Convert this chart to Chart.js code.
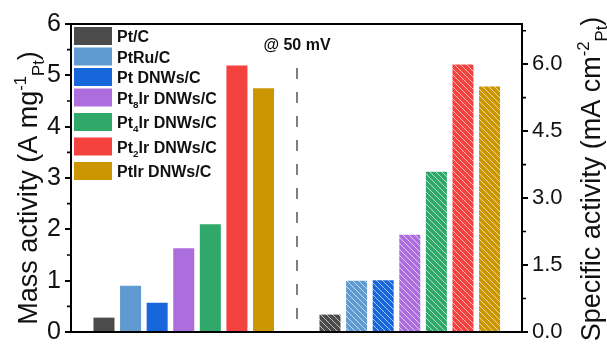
<!DOCTYPE html>
<html>
<head>
<meta charset="utf-8">
<script src="https://cdn.jsdelivr.net/npm/chart.js@4/dist/chart.umd.min.js"></script>
<style>
html,body{margin:0;padding:0;background:#fff;}
#wrap{width:607px;height:351px;}
</style>
</head>
<body>
<div id="wrap"><canvas id="c" width="607" height="351"></canvas></div>
<script>
// ---- data ----
const categories = ['Pt/C', 'PtRu/C', 'Pt DNWs/C', 'Pt₈Ir DNWs/C', 'Pt₄Ir DNWs/C', 'Pt₂Ir DNWs/C', 'PtIr DNWs/C'];
const massActivity = [0.28, 0.90, 0.57, 1.63, 2.10, 5.19, 4.75];
const specificActivity = [0.39, 1.15, 1.16, 2.18, 3.59, 5.99, 5.50];
const barColors = ['#4b4b4b', '#5f9bd0', '#1766dc', '#ad6edd', '#2fa86a', '#f4423f', '#cb9602'];
const massTicks = [0, 1, 2, 3, 4, 5, 6];
const specificTicks = [0, 1.5, 3.0, 4.5, 6.0];
const annotationText = '@ 50 mV';

const FONT = "'Liberation Sans', Arial, Helvetica, sans-serif";

// group placement on linear x axis (index based)
const leftStart = 1, rightStart = 9.5, dividerX = 8.25;

function hatch(color) {
  const s = 6;
  const cv = document.createElement('canvas');
  cv.width = s; cv.height = s;
  const g = cv.getContext('2d');
  g.fillStyle = color; g.fillRect(0, 0, s, s);
  g.strokeStyle = 'rgba(255,255,255,0.7)';
  g.lineWidth = 0.9;
  g.beginPath();
  for (let k = -1; k <= 1; k++) {
    g.moveTo(k * s, 0); g.lineTo(k * s + s, s);
  }
  g.stroke();
  return g.createPattern(cv, 'repeat');
}

const subMap = {'₀':'0','₁':'1','₂':'2','₃':'3','₄':'4','₅':'5','₆':'6','₇':'7','₈':'8','₉':'9'};
function parseLabel(str) {
  const parts = [];
  let cur = '', curSub = false;
  for (const ch of str) {
    const isSub = ch in subMap;
    if (isSub !== curSub && cur) { parts.push({t: cur, s: curSub ? -1 : 0}); cur = ''; }
    curSub = isSub;
    cur += isSub ? subMap[ch] : ch;
  }
  if (cur) parts.push({t: cur, s: curSub ? -1 : 0});
  return parts;
}

function drawRich(ctx, parts, x, y, size, weight, align, scale) {
  scale = scale || 0.62;
  const fontFor = p => weight + ' ' + (p.s ? size * scale : size) + 'px ' + FONT;
  let total = 0;
  const widths = parts.map(p => { ctx.font = fontFor(p); const w = ctx.measureText(p.t).width; total += w; return w; });
  let cx = align === 'center' ? x - total / 2 : (align === 'right' ? x - total : x);
  ctx.textAlign = 'left';
  ctx.textBaseline = 'alphabetic';
  parts.forEach((p, i) => {
    ctx.font = fontFor(p);
    const dy = p.s === 1 ? -size * 0.42 : (p.s === -1 ? size * 0.26 : 0);
    ctx.fillText(p.t, cx, y + dy);
    cx += widths[i];
  });
}

const decor = {
  id: 'decor',
  afterDraw(chart) {
    const ctx = chart.ctx;
    const a = chart.chartArea;
    const y = chart.scales.y, y2 = chart.scales.y2, x = chart.scales.x;
    ctx.save();
    // frame
    ctx.strokeStyle = '#000'; ctx.lineWidth = 2;
    ctx.strokeRect(a.left, a.top, a.right - a.left, a.bottom - a.top);
    // minor ticks
    ctx.lineWidth = 1.6;
    ctx.beginPath();
    for (let v = 0.5; v < 6; v += 1) {
      const py = y.getPixelForValue(v);
      ctx.moveTo(a.left, py); ctx.lineTo(a.left - 4, py);
    }
    for (let v = 0.75; v < 6.9; v += 1.5) {
      const py = y2.getPixelForValue(v);
      ctx.moveTo(a.right, py); ctx.lineTo(a.right + 4, py);
    }
    ctx.stroke();
    // divider
    const dx = Math.round(x.getPixelForValue(dividerX));
    ctx.strokeStyle = '#7f7f7f'; ctx.lineWidth = 2;
    ctx.setLineDash([11, 13]);
    ctx.beginPath(); ctx.moveTo(dx, 68); ctx.lineTo(dx, a.bottom); ctx.stroke();
    ctx.setLineDash([]);
    // annotation
    ctx.fillStyle = '#111';
    ctx.font = 'bold 16px ' + FONT;
    ctx.textAlign = 'center'; ctx.textBaseline = 'middle';
    ctx.fillText(annotationText, dx, 46);
    // legend
    let ly = a.top + 3;
    categories.forEach((name, i) => {
      const parts = parseLabel(name);
      const hasSub = parts.some(p => p.s);
      ctx.fillStyle = barColors[i];
      ctx.fillRect(a.left + 3, ly, 38, 18);
      ctx.fillStyle = '#111';
      drawRich(ctx, parts, a.left + 46, ly + 15, 16, 'bold', 'left', 0.62);
      ly += hasSub ? 24.5 : 20.5;
    });
    // axis titles
    ctx.fillStyle = '#111';
    ctx.save();
    ctx.translate(37, 188);
    ctx.rotate(-Math.PI / 2);
    drawRich(ctx, [{t: 'Mass activity (A mg', s: 0}, {t: '-1', s: 1}, {t: 'Pt', s: -1}, {t: ')', s: 0}], 0, 0, 27, 'normal', 'center', 0.62);
    ctx.restore();
    ctx.save();
    ctx.translate(600, 179);
    ctx.rotate(-Math.PI / 2);
    drawRich(ctx, [{t: 'Specific activity (mA cm', s: 0}, {t: '-2', s: 1}, {t: 'Pt', s: -1}, {t: ')', s: 0}], 0, 0, 27, 'normal', 'center', 0.62);
    ctx.restore();
    ctx.restore();
  }
};

new Chart(document.getElementById('c'), {
  type: 'bar',
  data: {
    datasets: [
      {
        label: 'Mass activity',
        yAxisID: 'y',
        data: massActivity.map((v, i) => ({x: leftStart + i, y: v})),
        backgroundColor: barColors,
        barPercentage: 0.79,
        categoryPercentage: 1.0,
        grouped: false,
        borderWidth: 0
      },
      {
        label: 'Specific activity',
        yAxisID: 'y2',
        data: specificActivity.map((v, i) => ({x: rightStart + i, y: v})),
        backgroundColor: barColors.map(hatch),
        barPercentage: 0.79,
        categoryPercentage: 1.0,
        grouped: false,
        borderWidth: 0
      }
    ]
  },
  options: {
    responsive: false,
    animation: false,
    layout: {padding: {top: 24, bottom: 11, left: 0, right: 0}},
    plugins: {legend: {display: false}, tooltip: {enabled: false}},
    scales: {
      x: {type: 'linear', min: -0.24, max: 16.72, offset: false, display: false, grid: {offset: false}},
      y: {
        position: 'left', min: 0, max: 6,
        afterBuildTicks: s => { s.ticks = massTicks.map(v => ({value: v})); },
        afterFit: s => { s.width = 71; },
        ticks: {color: '#111', padding: 4, font: {family: FONT, size: 25}, callback: v => String(v)},
        grid: {drawOnChartArea: false, drawTicks: true, tickLength: 6, color: '#000', lineWidth: 2},
        border: {display: true, color: '#000', width: 2}
      },
      y2: {
        position: 'right', min: 0, max: 6.9,
        afterBuildTicks: s => { s.ticks = specificTicks.map(v => ({value: v})); },
        afterFit: s => { s.width = 85; },
        ticks: {color: '#111', padding: 4, font: {family: FONT, size: 22}, callback: v => Number(v).toFixed(1)},
        grid: {drawOnChartArea: false, drawTicks: true, tickLength: 6, color: '#000', lineWidth: 2},
        border: {display: true, color: '#000', width: 2}
      }
    }
  },
  plugins: [decor]
});
</script>
</body>
</html>
